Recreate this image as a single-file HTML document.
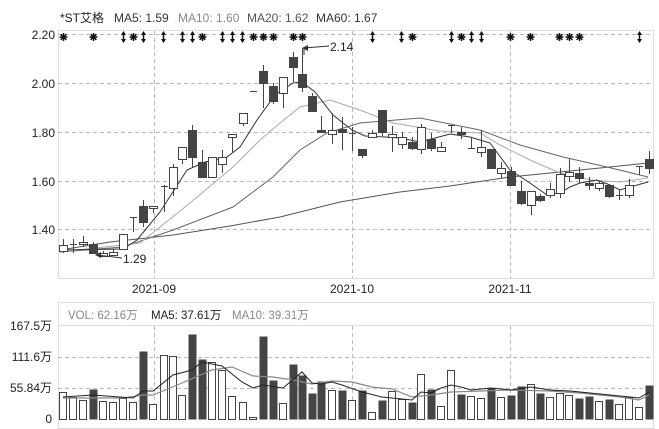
<!DOCTYPE html>
<html><head><meta charset="utf-8"><style>
body{margin:0;background:#fff;}
svg{display:block;font-family:"Liberation Sans","Noto Sans CJK SC",sans-serif;}
</style></head><body>
<svg width="659" height="429" viewBox="0 0 659 429" xmlns="http://www.w3.org/2000/svg">
<rect width="659" height="429" fill="#fff"/>
<text x="60" y="22" font-size="12" fill="#222">*ST艾格</text>
<text x="114" y="22" font-size="12" fill="#333">MA5: 1.59</text>
<text x="178" y="22" font-size="12" fill="#888">MA10: 1.60</text>
<text x="247" y="22" font-size="12" fill="#555">MA20: 1.62</text>
<text x="316" y="22" font-size="12" fill="#333">MA60: 1.67</text>
<!-- price frame -->
<rect x="58.5" y="30.5" width="595" height="248" fill="none" stroke="#ddd"/>
<g stroke="#bbb" stroke-dasharray="4,3" stroke-width="1">
<line x1="58" y1="34.5" x2="653" y2="34.5"/><line x1="58" y1="83.5" x2="653" y2="83.5"/>
<line x1="58" y1="132.5" x2="653" y2="132.5"/><line x1="58" y1="181.5" x2="653" y2="181.5"/>
<line x1="58" y1="229.5" x2="653" y2="229.5"/>
<line x1="154.5" y1="31" x2="154.5" y2="278"/><line x1="352.5" y1="31" x2="352.5" y2="278"/><line x1="510.5" y1="31" x2="510.5" y2="278"/>
</g>
<g font-size="12" fill="#222" text-anchor="end">
<text x="55" y="39">2.20</text><text x="55" y="88">2.00</text><text x="55" y="137">1.80</text><text x="55" y="186">1.60</text><text x="55" y="234">1.40</text>
</g>
<g font-size="12" fill="#222" text-anchor="middle">
<text x="154" y="293">2021-09</text><text x="352" y="293">2021-10</text><text x="510" y="293">2021-11</text>
</g>
<!-- MA lines -->
<g fill="none" stroke-width="1">
<polyline stroke="#555" points="60,250 110,242 173,235 230,226 280,217 340,202 400,192 450,186 510,177 560,172 600,168 648,163"/>
<polyline stroke="#666" points="60,252 123,247 173,230 233,207 273,177 300,150 327,133 360,123 420,118 480,130 520,145 563,157 607,167 648,177"/>
<polyline stroke="#aaa" points="60,252 140,243 190,203 233,167 260,140 280,123 300,107 330,100 360,110 393,123 440,131 480,133 500,145 530,160 560,173 590,180 620,182 648,178"/>
<polyline stroke="#333" points="60,250 123,249 137,240 160,212 187,170 205,162 227,157 240,147 257,120 275,95 293,83 302,82 315,92 333,115 352,130 365,136 385,137 400,138 420,142 450,134 470,137 490,143 510,170 530,183 547,195 560,193 570,187 580,183 597,180 610,185 620,190 630,187 648,182"/>
</g>
<!-- candles -->
<g id="c" stroke="#444" stroke-width="1"></g>
<!-- markers -->
<g id="m" fill="#111" stroke="#111"></g>
<!-- annotations -->
<g stroke="#333" fill="none"><polyline points="329,46 304,48 304,55"/><polyline points="122,258 97,255"/></g>
<polygon points="302,48 308,45 308,51" fill="#333"/><polygon points="95,255 101,252 101,258" fill="#333"/>
<text x="330" y="51" font-size="12" fill="#222">2.14</text>
<text x="123" y="263" font-size="12" fill="#222">1.29</text>
<!-- volume -->
<rect x="58.5" y="302.5" width="595" height="126" fill="none" stroke="#ddd"/>
<line x1="58" y1="325.5" x2="653" y2="325.5" stroke="#ddd"/>
<g stroke="#bbb" stroke-dasharray="4,3">
<line x1="58" y1="357.5" x2="653" y2="357.5"/><line x1="58" y1="388.5" x2="653" y2="388.5"/>
<line x1="154.5" y1="326" x2="154.5" y2="419"/><line x1="352.5" y1="326" x2="352.5" y2="419"/><line x1="510.5" y1="326" x2="510.5" y2="419"/>
</g>
<text x="68" y="319" font-size="11.5" fill="#888">VOL: 62.16万</text>
<text x="151" y="319" font-size="11.5" fill="#222">MA5: 37.61万</text>
<text x="232" y="319" font-size="11.5" fill="#888">MA10: 39.31万</text>
<g font-size="12" fill="#222" text-anchor="end">
<text x="52" y="330">167.5万</text><text x="52" y="361">111.6万</text><text x="52" y="392">55.84万</text><text x="52" y="423">0</text>
</g>
<g id="v" stroke="#444"></g>
<g fill="none">
<polyline stroke="#888" stroke-width="1.2" points="63,398 123,398 143,395 153,395 182,383 212,370 232,367 253,376 273,377 293,380 312,384 332,381 352,382 372,387 392,389 412,397 431,395 451,392 481,391 511,390 550,391 580,393 620,397 639,400 649,395"/>
<polyline stroke="#222" stroke-width="1" points="63,397 93,395 133,398 143,391 153,391 173,375 192,370 202,362 222,366 242,382 253,388 263,385 283,388 302,372 312,383 321,384 332,382 342,385 362,392 382,397 402,399 412,400 421,392 431,393 441,388 451,385 461,387 471,390 491,388 511,390 531,387 550,390 570,391 600,394 620,396 639,398 649,392"/>
</g>
<script>
var C=[[63,0,245,251,239,253],[73,2,244,244,239,253],[83,0,242,244,236,247],[93,1,244,253,242,253],[103,0,253,256,251,257],[113,0,252,255,249,256],[123,0,234,249,234,249],[133,2,217,217,217,232],[143,1,206,222,200,227],[153,0,206,207,206,213],[164,2,186,186,185,212],[173,0,167,188,164,196],[182,0,147,159,147,164],[192,1,130,157,125,167],[202,1,162,177,150,177],[212,0,157,177,157,177],[222,0,157,164,150,173],[232,0,134,137,134,152],[243,0,113,123,113,126],[253,2,91,91,91,91],[263,1,71,83,65,108],[273,1,86,101,83,104],[283,0,77,93,77,108],[293,1,57,67,52,82],[302,1,74,87,48,92],[312,1,96,111,93,111],[321,1,130,132,116,132],[332,0,130,134,113,144],[342,1,129,132,117,150],[352,2,133,133,127,151],[362,1,149,155,149,158],[372,0,133,137,130,137],[382,1,110,132,110,136],[392,0,134,137,126,152],[402,0,137,144,132,149],[412,1,142,148,137,150],[421,0,127,149,124,154],[431,1,139,148,133,151],[441,0,147,151,142,151],[451,2,125,125,125,133],[461,1,132,134,127,139],[471,2,148,148,137,149],[481,0,147,152,130,157],[491,1,149,168,149,168],[501,0,168,173,162,178],[511,1,171,185,167,185],[521,1,191,203,181,205],[531,0,191,205,191,215],[540,1,196,200,194,202],[550,0,189,195,183,198],[560,0,174,193,168,198],[569,0,172,176,159,182],[579,1,173,178,167,183],[589,1,183,185,177,190],[599,0,183,188,181,191],[609,1,185,196,185,198],[619,2,195,195,190,200],[629,0,185,195,179,198],[639,2,166,166,166,175],[649,1,159,168,151,174]];
var V=[392,397,400,389,401,402,398,402,351,404,355,356,395,334,359,362,370,396,402,417,336,380,403,364,375,393,381,390,390,400,390,412,400,391,399,402,374,389,406,370,394,396,398,388,397,395,386,384,393,397,393,395,398,396,401,399,404,397,407,385];
var NS="http://www.w3.org/2000/svg",g=document.getElementById('c'),gv=document.getElementById('v');
function el(p,t,a){var e=document.createElementNS(NS,t);for(var k in a)e.setAttribute(k,a[k]);p.appendChild(e);return e;}
C.forEach(function(c,i){var x=c[0]+0.5;
el(g,'line',{x1:x,x2:x,y1:c[4],y2:c[5]});
if(c[1]==2){el(g,'line',{x1:x-3.5,x2:x+3.5,y1:c[2]+0.5,y2:c[2]+0.5});}
else{var h=Math.max(c[3]-c[2],2);el(g,'rect',{x:c[0]-3.5,y:c[2]+0.5,width:8,height:h,fill:c[1]==1?'#444':'#fff'});}
var vy=V[i];if(vy!==undefined){var dark=c[1]==1;el(gv,'rect',{x:c[0]-3.5,y:vy+0.5,width:dark?8:7,height:419-vy,fill:dark?'#444':'#fff',stroke:dark?'none':'#444'});}
});
var gm=document.getElementById('m');
var S=[63,93,133,202,253,263,273,293,302,412,461,510,530,559,569,579];
var A=[123,143,163,182,192,222,232,242,372,401,451,471,481,639];
S.forEach(function(x){for(var a=0;a<4;a++){var r=a*Math.PI/4;el(gm,'line',{x1:x+0.5-4*Math.cos(r),y1:37-4*Math.sin(r),x2:x+0.5+4*Math.cos(r),y2:37+4*Math.sin(r),'stroke-width':1.5});}});
A.forEach(function(x){el(gm,'line',{x1:x+0.5,x2:x+0.5,y1:32,y2:42,'stroke-width':1.5});el(gm,'polygon',{points:(x-2)+',35 '+(x+3)+',35 '+(x+0.5)+',31',stroke:'none'});el(gm,'polygon',{points:(x-2)+',39 '+(x+3)+',39 '+(x+0.5)+',43',stroke:'none'});});
</script>
</svg>
</body></html>
